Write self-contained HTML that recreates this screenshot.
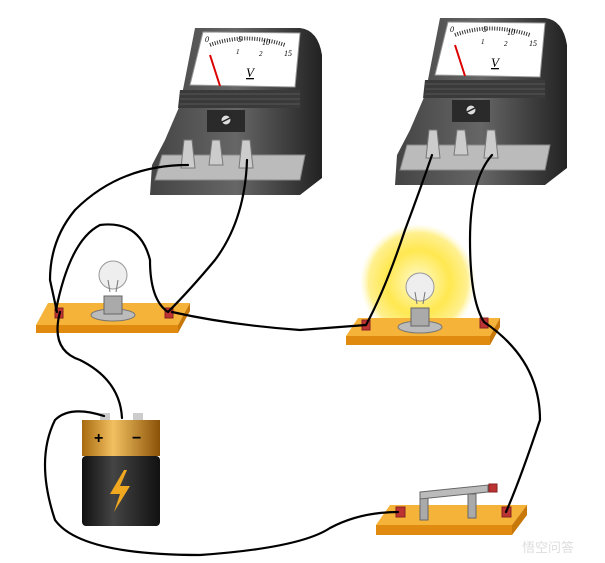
<!DOCTYPE html>
<html><head><style>body{margin:0;background:#fff}svg{display:block}</style></head><body>
<svg width="605" height="563" viewBox="0 0 605 563" xmlns="http://www.w3.org/2000/svg" font-family="Liberation Serif, serif">
<defs>
<radialGradient id="glow" cx="0.5" cy="0.5" r="0.5"><stop offset="0" stop-color="#fffbd0"/><stop offset="0.55" stop-color="#ffe850"/><stop offset="0.85" stop-color="#fff090"/><stop offset="1" stop-color="#fff8c0" stop-opacity="0"/></radialGradient>
<linearGradient id="body" x1="0" y1="0" x2="1" y2="0"><stop offset="0" stop-color="#444"/><stop offset="0.5" stop-color="#666"/><stop offset="1" stop-color="#222"/></linearGradient>
<linearGradient id="gold" x1="0" y1="0" x2="1" y2="0"><stop offset="0" stop-color="#a86a10"/><stop offset="0.4" stop-color="#f2c060"/><stop offset="1" stop-color="#8a5208"/></linearGradient>
<linearGradient id="blk" x1="0" y1="0" x2="1" y2="0"><stop offset="0" stop-color="#111"/><stop offset="0.4" stop-color="#444"/><stop offset="1" stop-color="#111"/></linearGradient>
<g id="meter">
 <path d="M195,28 L300,28 Q318,30 322,55 L322,178 L300,195 L150,195 L152,165 L165,140 L180,105 Z" fill="url(#body)"/>
 <path d="M180,90 L300,90 L300,108 L178,108 Z" fill="#3a3a3a"/>
 <path d="M180,94 H300 M180,99 H300 M180,104 H300" stroke="#555" stroke-width="1"/>
 <path d="M203,32 L300,33 L295,87 L190,85 Z" fill="#fff" stroke="#999"/>
 <path d="M210,45 Q245,32 285,45" fill="none" stroke="#333" stroke-width="4" stroke-dasharray="1 1.5"/>
 <text x="205" y="42" font-size="8" font-style="italic">0</text>
 <text x="238" y="42" font-size="8" font-style="italic">5</text>
 <text x="262" y="45" font-size="8" font-style="italic">10</text>
 <text x="284" y="56" font-size="8" font-style="italic">15</text>
 <text x="236" y="54" font-size="7" font-style="italic">1</text>
 <text x="259" y="56" font-size="7" font-style="italic">2</text>
 <text x="246" y="77" font-size="13" font-style="italic" text-decoration="underline">V</text>
 <line x1="210" y1="55" x2="220" y2="86" stroke="#d00" stroke-width="2"/>
 <rect x="207" y="110" width="38" height="22" fill="#2a2a2a"/>
 <circle cx="226" cy="120" r="5" fill="#ddd" stroke="#222"/>
 <line x1="222" y1="122" x2="230" y2="118" stroke="#222" stroke-width="1.5"/>
 <path d="M162,155 L305,155 L300,180 L155,180 Z" fill="#bbb" stroke="#888"/>
 <path d="M184,140 L192,140 L195,168 L181,168 Z" fill="#ccc" stroke="#777"/>
 <path d="M212,140 L220,140 L223,165 L209,165 Z" fill="#ccc" stroke="#777"/>
 <path d="M242,140 L250,140 L253,168 L239,168 Z" fill="#ccc" stroke="#777"/>
</g>
</defs>
<circle cx="418" cy="282" r="58" fill="url(#glow)"/>
<use href="#meter"/>
<use href="#meter" transform="translate(245,-10)"/>
<path d="M48,303 L190,303 L178,325 L36,325 Z" fill="#f6b33a"/><path d="M36,325 L178,325 L178,333 L36,333 Z" fill="#e08a10"/><path d="M178,325 L190,303 L190,311 L178,333Z" fill="#c87808"/>
<path d="M358,318 L500,318 L490,336 L346,336 Z" fill="#f6b33a"/><path d="M346,336 L490,336 L490,345 L346,345 Z" fill="#e08a10"/><path d="M490,336 L500,318 L500,327 L490,345Z" fill="#c87808"/>
<path d="M390,505 L527,505 L512,525 L376,525 Z" fill="#f6b33a"/><path d="M376,525 L512,525 L512,535 L376,535 Z" fill="#e08a10"/><path d="M512,525 L527,505 L527,515 L512,535Z" fill="#c87808"/>
<g fill="#b33" stroke="#822"><rect x="55" y="308" width="8" height="10"/><rect x="165" y="308" width="8" height="10"/><rect x="362" y="320" width="8" height="10"/><rect x="480" y="318" width="8" height="10"/><rect x="396" y="507" width="9" height="10"/><rect x="502" y="507" width="9" height="10"/><rect x="489" y="484" width="8" height="8"/></g>
<g id="b"><ellipse cx="113" cy="315" rx="22" ry="6" fill="#bbb" stroke="#777"/><rect x="104" y="296" width="18" height="18" fill="#aaa" stroke="#666"/><circle cx="113" cy="275" r="14" fill="#eee" stroke="#999"/><path d="M108,280 L110,292 M118,280 L116,292" stroke="#777"/></g>
<use href="#b" transform="translate(307,12)"/>
<rect x="420" y="494" width="8" height="26" fill="#aaa" stroke="#666"/><rect x="468" y="494" width="8" height="24" fill="#aaa" stroke="#666"/>
<path d="M420,492 L488,485 L488,492 L420,499 Z" fill="#bbb" stroke="#666"/>
<rect x="100" y="413" width="10" height="8" fill="#ccc"/><rect x="133" y="413" width="10" height="8" fill="#ccc"/>
<rect x="82" y="420" width="78" height="36" fill="url(#gold)"/><rect x="82" y="456" width="78" height="70" rx="4" fill="url(#blk)"/>
<text x="94" y="443" font-size="16" font-family="Liberation Sans, sans-serif" font-weight="bold">+</text>
<text x="132" y="443" font-size="16" font-family="Liberation Sans, sans-serif" font-weight="bold">−</text>
<path d="M124,470 L110,494 L120,494 L114,512 L130,486 L120,486 L127,470 Z" fill="#f0a820"/>
<g fill="none" stroke="#000" stroke-width="2.2" stroke-linecap="round">
<path d="M188,165 Q120,165 75,210 Q50,240 50,280 L57,312"/>
<path d="M247,160 Q245,220 215,260 Q190,290 168,312"/>
<path d="M60,312 Q50,350 80,360 Q120,380 122,418"/>
<path d="M104,416 Q70,405 55,420 Q35,460 55,520 Q80,555 200,555 Q300,548 330,528 Q360,512 398,512"/>
<path d="M56,310 Q70,240 100,225 Q140,220 150,260 Q150,300 168,312"/>
<path d="M172,312 Q230,325 300,330 L366,325"/>
<path d="M432,155 Q420,190 405,230 Q385,290 366,325"/>
<path d="M492,155 Q470,180 470,240 Q470,300 484,322 Q540,360 540,420 Q520,480 506,512"/>
</g>
<text x="522" y="552" font-size="13" fill="#ddd" font-family="Noto Sans CJK SC, sans-serif">悟空问答</text>
</svg>
</body></html>
